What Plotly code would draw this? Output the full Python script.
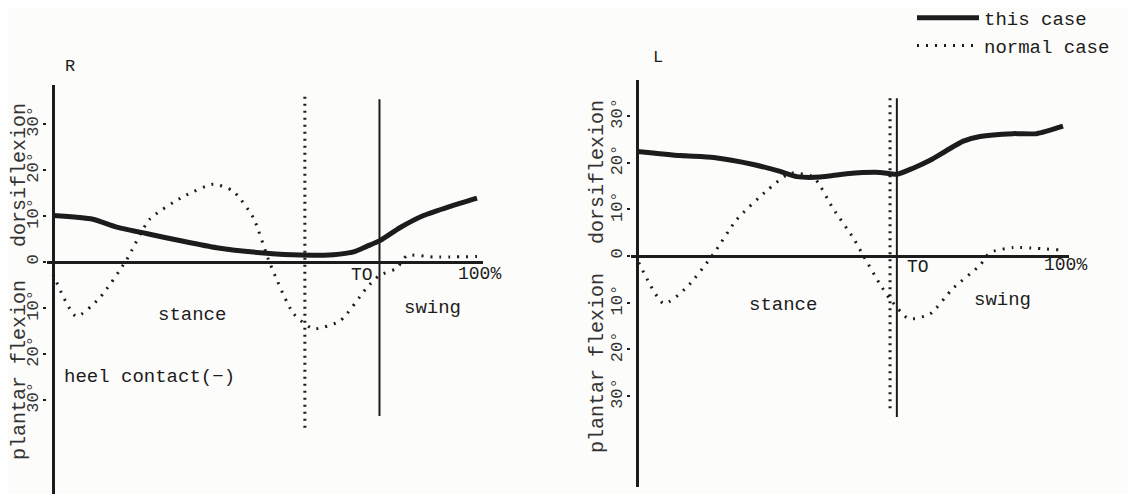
import plotly.graph_objects as go

W, H = 1136, 494
# the page body keeps the browser's default 8px margin, so window pixel positions
# are converted to figure pixel positions by subtracting this offset
OFF = 8
FONT = "Liberation Mono, Courier New, monospace"
INK = "#1c1c1c"

# ---------------- data (gait cycle %, ankle angle in degrees; + = dorsiflexion) -------------
pct_R_this = [0, 9.4, 15, 22, 30.7, 38.6, 50.4, 58.3, 66.1, 70.9, 74, 77.2, 81.9, 87.4, 93.7, 100]
deg_R_this = [10.1, 9.3, 7.6, 6.2, 4.5, 3.1, 1.9, 1.5, 1.6, 2.2, 3.4, 4.7, 7.5, 10.1, 12.1, 13.9]

pct_R_normal = [0, 5.5, 11, 17.3, 22.8, 30.7, 37.8, 42.5, 47.2, 51.2, 56.7, 61.4, 67.7, 74, 77, 81, 83.5, 89.8, 100]
deg_R_normal = [-2.7, -11.8, -7.8, 0.4, 9.3, 14.2, 16.9, 15.4, 9.7, -0.4, -11.2, -14.5, -12.8, -5.6, -2.9, -1.4, 1.4, 1.1, 1.2]

pct_L_this = [0, 10.2, 18, 27.3, 33.6, 37.5, 43, 49.2, 57, 61, 64.8, 68.8, 72.7, 76.6, 80.5, 88.3, 93.8, 100]
deg_L_this = [22.4, 21.5, 21.1, 19.6, 18.1, 17.0, 16.9, 17.6, 17.9, 17.5, 18.8, 20.5, 22.6, 24.6, 25.6, 26.2, 26.2, 27.8]

pct_L_normal = [0.4, 6.3, 11.7, 18, 23.4, 30.5, 35.9, 41.4, 46, 50.8, 53, 57, 59.4, 63.7, 68.8, 74.2, 80.5, 82.8, 88.3, 99.2]
deg_L_normal = [-1.4, -10.2, -6.7, 0.5, 7.8, 14, 17.7, 16.9, 10.2, 3.8, 0.3, -6.0, -9.2, -13.4, -12.4, -6.9, -2.0, 0.7, 1.8, 1.3]

# toe-off markers: x position (% of cycle) and vertical extent (degrees)
to_R_this, to_R_this_ext = 77.0, [35.4, -33.5]
to_R_normal, to_R_normal_ext = 59.4, [35.9, -36.1]
to_L_this, to_L_this_ext = 61.0, [33.8, -34.5]
to_L_normal, to_L_normal_ext = 59.4, [33.8, -33.6]

tick_vals = [-30, -20, -10, 0, 10, 20, 30]
tick_text = ["30°", "20°", "10°", "0", "10°", "20°", "30°"]

DOT = "2px,7px"
VDOT = "2px,5px"

fig = go.Figure()

def add_panel(xa, ya, px_, py_, pn, dn, tx, txe, tn, tne, legend):
    fig.add_trace(go.Scatter(x=px_, y=py_, mode="lines", xaxis=xa, yaxis=ya,
                             line=dict(color=INK, width=5, shape="spline", smoothing=0.6),
                             name="this case", showlegend=legend))
    fig.add_trace(go.Scatter(x=pn, y=dn, mode="lines", xaxis=xa, yaxis=ya,
                             line=dict(color=INK, width=3, dash=DOT, shape="spline", smoothing=0.6),
                             name="normal case", showlegend=legend))
    fig.add_trace(go.Scatter(x=[tx, tx], y=txe, mode="lines", xaxis=xa, yaxis=ya,
                             line=dict(color=INK, width=2), showlegend=False, hoverinfo="skip"))
    fig.add_trace(go.Scatter(x=[tn, tn], y=tne, mode="lines", xaxis=xa, yaxis=ya,
                             line=dict(color=INK, width=3, dash=VDOT), showlegend=False, hoverinfo="skip"))

add_panel("x", "y", pct_R_this, deg_R_this, pct_R_normal, deg_R_normal,
          to_R_this, to_R_this_ext, to_R_normal, to_R_normal_ext, True)
add_panel("x2", "y2", pct_L_this, deg_L_this, pct_L_normal, deg_L_normal,
          to_L_this, to_L_this_ext, to_L_normal, to_L_normal_ext, False)

def xax(left0, right100, anchor):
    left0 -= OFF
    right100 -= OFF
    ppx = (right100 - left0) / 100.0
    lo, hi = -1.5, 101.5
    d0 = (left0 + lo * ppx) / W
    d1 = (left0 + hi * ppx) / W
    return dict(domain=[d0, d1], range=[lo, hi], showgrid=False, showticklabels=False,
                ticks="", showline=False, zeroline=True, zerolinecolor=INK, zerolinewidth=2.5,
                anchor=anchor)

def yax(top_px, bot_px, zero_px, ppd, anchor):
    top = (zero_px - top_px) / ppd
    bot = -(bot_px - zero_px) / ppd
    top_px -= OFF
    bot_px -= OFF
    return dict(domain=[1 - bot_px / H, 1 - top_px / H], range=[bot, top], showgrid=False,
                zeroline=True, zerolinecolor=INK, zerolinewidth=2.5, showline=False,
                tickmode="array", tickvals=tick_vals, ticktext=tick_text, tickangle=-90,
                ticks="outside", ticklen=3, tickwidth=1.5, tickcolor=INK,
                ticklabelstandoff=-2,
                tickfont=dict(family=FONT, size=17, color="#333"), anchor=anchor)

xa1 = xax(53, 477, "y")
ya1 = yax(85, 494, 262, 4.6, "x")
xa2 = xax(637, 1063, "y2")
ya2 = yax(80, 487, 256, 4.67, "x2")

def P(x, y):
    return (x - OFF) / W, 1 - (y - OFF) / H

annots = []
def txt(s, x, y, size=19, angle=0, xanchor="center", color=INK):
    ax, ay = P(x, y)
    annots.append(dict(text=s, x=ax, y=ay, xref="paper", yref="paper", showarrow=False,
                       xanchor=xanchor, yanchor="middle", textangle=angle,
                       font=dict(family=FONT, size=size, color=color)))

# panel R labels
txt("R", 70, 67, 17)
txt("stance", 192, 315)
txt("swing", 433, 308)
txt("TO", 362, 275, 18)
txt("100%", 479, 274, 18)
txt("heel contact(−)", 62, 377, 19, xanchor="left")
txt("dorsiflexion", 19, 175, 20, angle=-90, color="#333")
txt("plantar flexion", 19, 370, 20, angle=-90, color="#333")
# panel L labels
txt("L", 658, 58, 17)
txt("stance", 783, 305)
txt("swing", 1002, 300)
txt("TO", 918, 267, 18)
txt("100%", 1065, 265, 18)
txt("dorsiflexion", 597, 172, 20, angle=-90, color="#333")
txt("plantar flexion", 597, 363, 20, angle=-90, color="#333")

fig.update_layout(
    width=W, height=H, margin=dict(l=0, r=0, t=0, b=0, autoexpand=False),
    paper_bgcolor="#fcfcfa", plot_bgcolor="rgba(0,0,0,0)",
    xaxis=xa1, yaxis=ya1, xaxis2=xa2, yaxis2=ya2,
    annotations=annots,
    legend=dict(x=(912 - OFF) / W, y=1 + 9 / H, xanchor="left", yanchor="top", itemwidth=62,
                bgcolor="rgba(0,0,0,0)", font=dict(family=FONT, size=19, color=INK),
                tracegroupgap=0),
    showlegend=True,
)

fig.write_html("out.html")
